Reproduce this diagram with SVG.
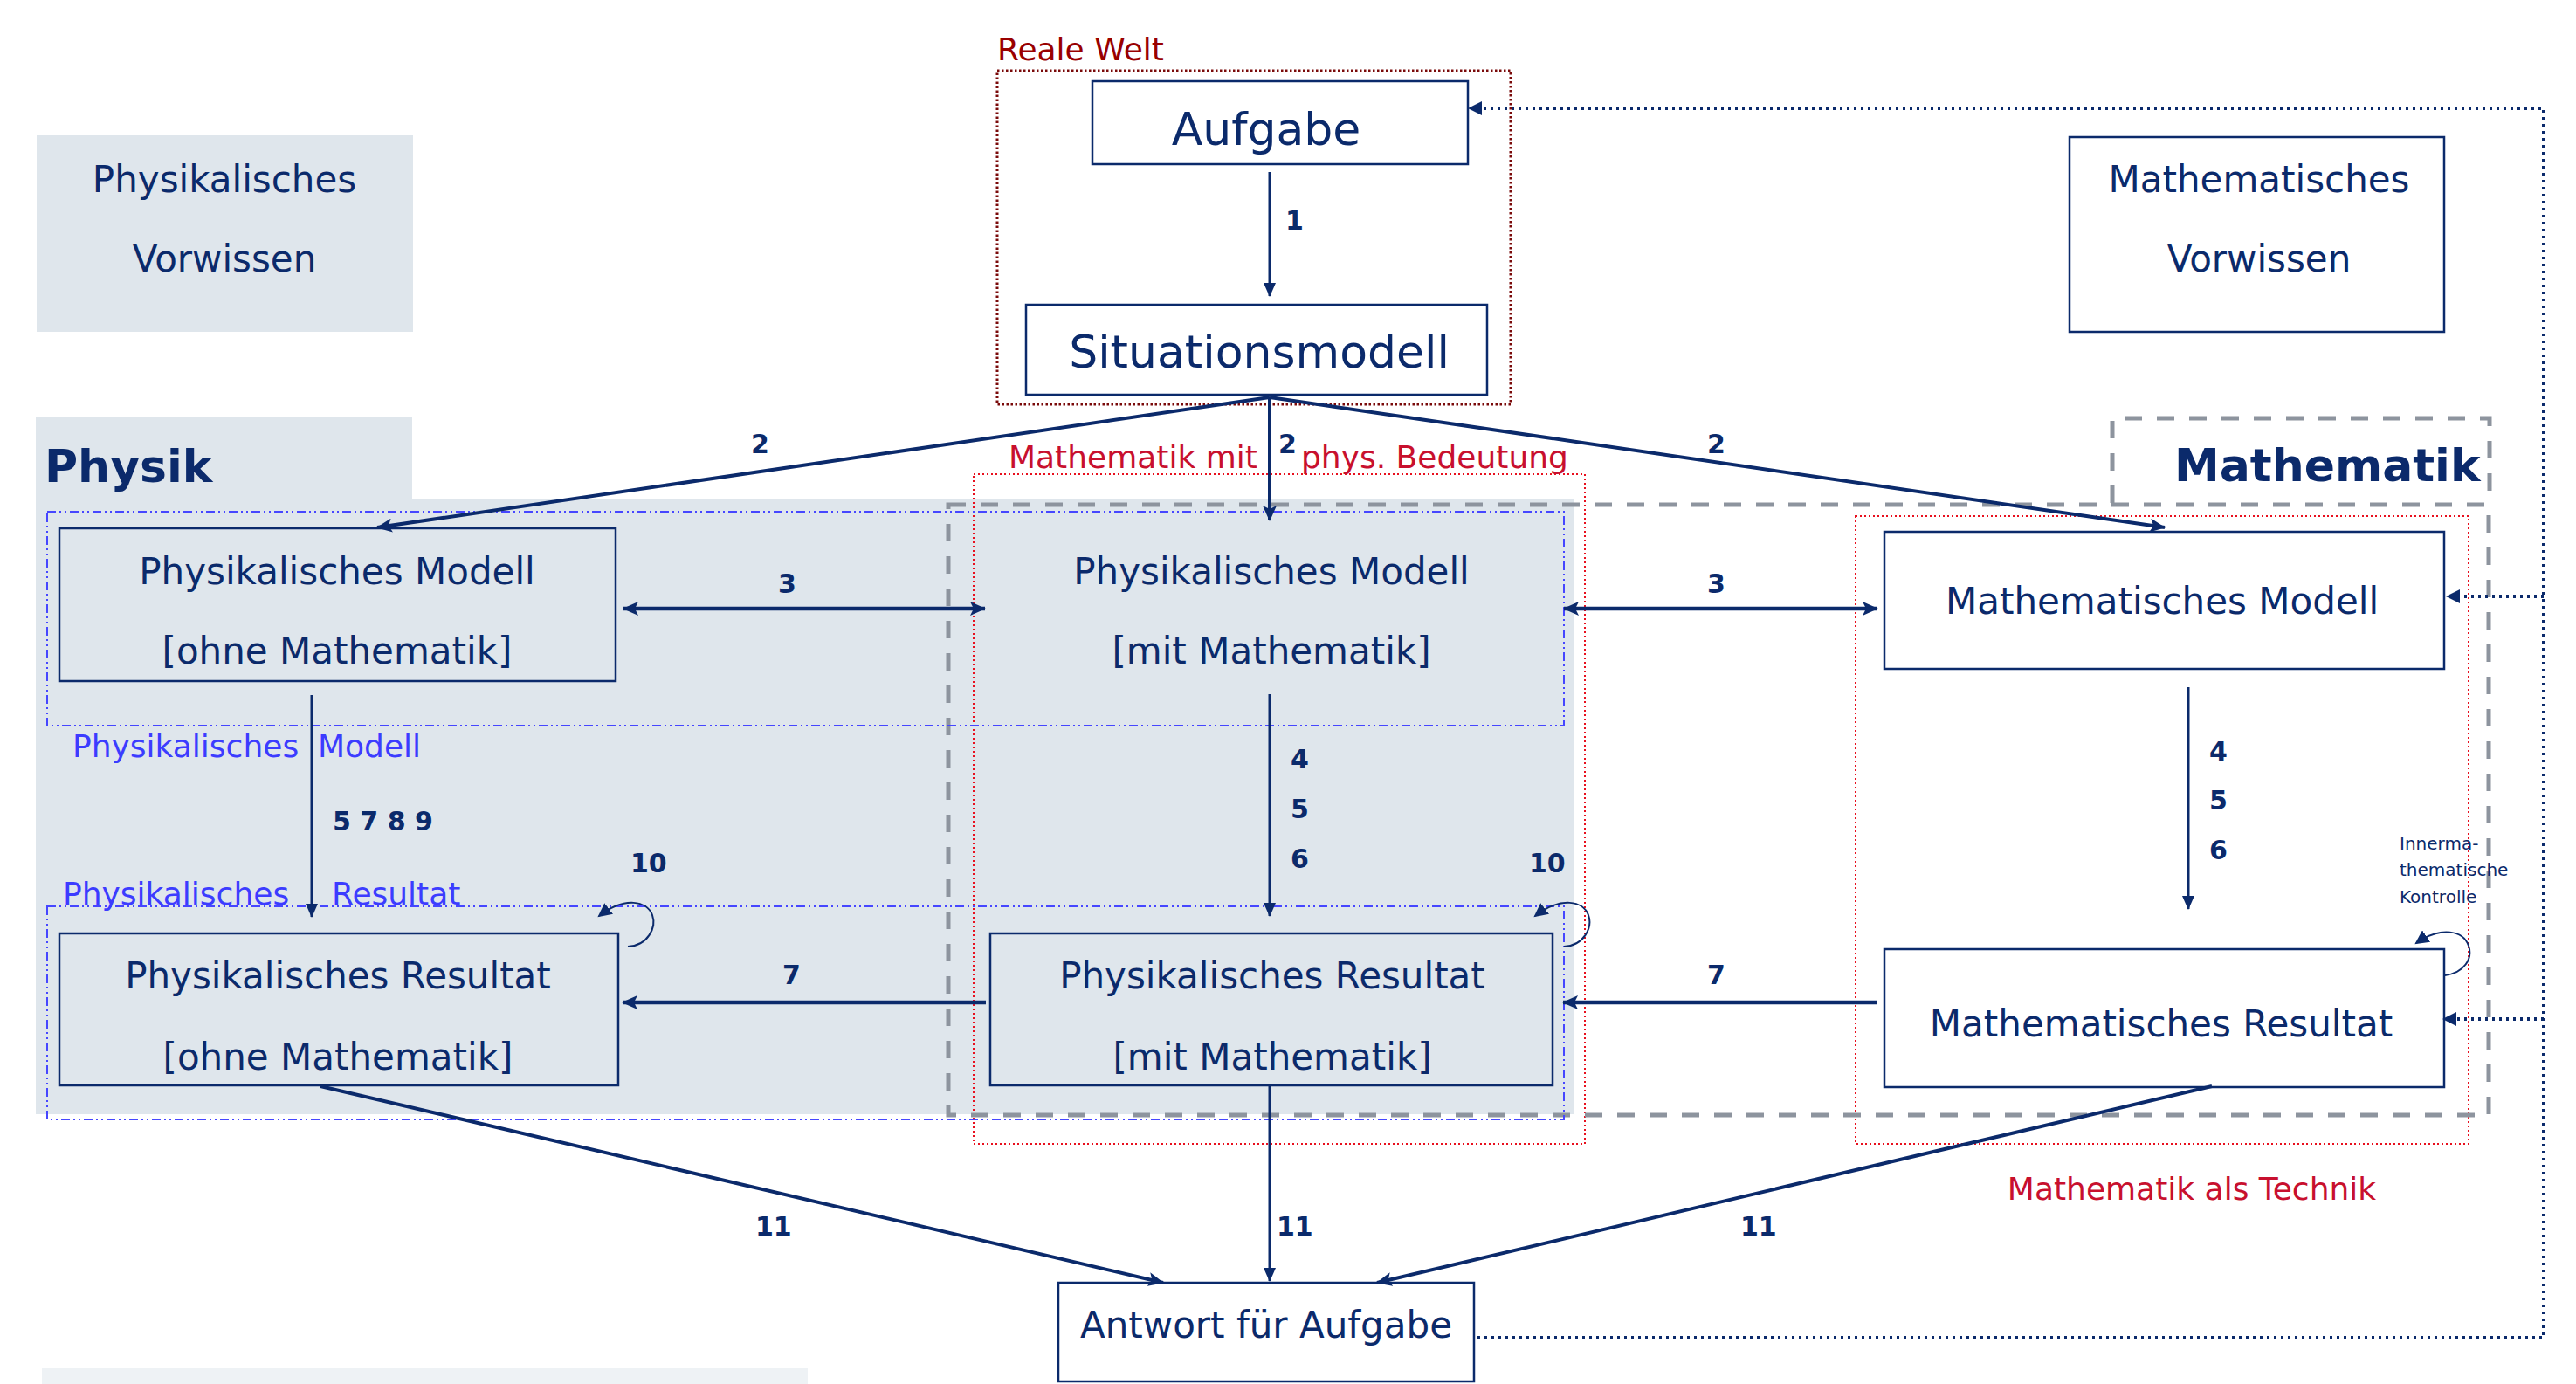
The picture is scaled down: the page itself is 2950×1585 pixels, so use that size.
<svg xmlns="http://www.w3.org/2000/svg" width="2950" height="1585" viewBox="0 0 2950 1585">
<style>
text{font-family:"DejaVu Sans","Liberation Sans",sans-serif;fill:#0b2a6b}
.t42{font-size:42px}
.t52{font-size:52px}
.mid{text-anchor:middle}
.bold{font-weight:bold}
.lbl{font-size:30px;font-weight:bold}
.blue{fill:#3c3cff;font-size:36px}
.red{fill:#c8102e;font-size:36px}
.box{fill:#ffffff;stroke:#0b2a6b;stroke-width:2.5}
.gbox{fill:none;stroke:#0b2a6b;stroke-width:2.5}
.gray{fill:none;stroke:#8d949e;stroke-width:5;stroke-dasharray:20 17}
.reddot{fill:none;stroke:#e8101e;stroke-width:2;stroke-dasharray:2 3}
.dreddot{fill:none;stroke:#7a0a0a;stroke-width:3;stroke-dasharray:2.5 2.5}
.bluedd{fill:none;stroke:#4646ff;stroke-width:2;stroke-dasharray:10 4 2 4 2 4}
.a4{fill:none;stroke:#0b2a6b;stroke-width:4;marker-end:url(#ah)}
.a3{fill:none;stroke:#0b2a6b;stroke-width:3;marker-end:url(#ahs)}
.a5{fill:none;stroke:#0b2a6b;stroke-width:4.5;marker-end:url(#ah)}
.dbl{marker-start:url(#ah)}
.dot{fill:none;stroke:#0b2a6b;stroke-width:4;stroke-dasharray:3 5}
.loop{fill:none;stroke:#0b2a6b;stroke-width:2;marker-end:url(#ahl)}
</style>
<defs>
<marker id="ah" markerUnits="userSpaceOnUse" markerWidth="20" markerHeight="16" refX="17" refY="8" orient="auto-start-reverse" viewBox="0 0 20 16"><path d="M0,0 L18,8 L0,16 L4,8 Z" fill="#0b2a6b"/></marker>
<marker id="ahs" markerUnits="userSpaceOnUse" markerWidth="16" markerHeight="14" refX="15" refY="7" orient="auto" viewBox="0 0 16 14"><path d="M0,0 L16,7 L0,14 Z" fill="#0b2a6b"/></marker>
<marker id="ahl" markerUnits="userSpaceOnUse" markerWidth="18" markerHeight="16" refX="14" refY="8" orient="auto" viewBox="0 0 18 16"><path d="M0,0 L16,8 L0,16 Z" fill="#0b2a6b"/></marker>
</defs>
<rect width="2950" height="1585" fill="#ffffff"/>

<g id="regions">
<rect x="41" y="478" width="431" height="95" fill="#dfe6ec"/>
<rect x="41" y="571" width="1761" height="705" fill="#dfe6ec"/>
<rect x="48" y="1567" width="877" height="18" fill="#eef2f5"/>
<rect class="dreddot" x="1142" y="81" width="588" height="382"/>
<text x="1142" y="69" style="fill:#990000;font-size:36px">Reale Welt</text>
<rect class="reddot" x="1115" y="543" width="700" height="767"/>
<text class="red" y="536"><tspan x="1155">Mathematik mit</tspan><tspan x="1490">phys. Bedeutung</tspan></text>
<rect class="reddot" x="2125" y="591" width="702" height="719"/>
<text class="red mid" x="2510" y="1374">Mathematik als Technik</text>
<path class="gray" d="M1086,578 H2850 V1277 H1086 Z"/>
<path class="gray" d="M2419,576 V479 H2851 V576"/>
<text class="bold t52" x="2490" y="551">Mathematik</text>
<text class="bold t52" x="51" y="552">Physik</text>
<rect class="bluedd" x="54" y="586" width="1737" height="245"/>
<text class="blue" y="867"><tspan x="83">Physikalisches</tspan><tspan x="364">Modell</tspan></text>
<rect class="bluedd" x="54" y="1038" width="1737" height="244"/>
<text class="blue" y="1036"><tspan x="72">Physikalisches</tspan><tspan x="380">Resultat</tspan></text>
</g>

<g id="phys-vorwissen">
<rect x="42" y="155" width="431" height="225" fill="#dfe6ec"/>
<text class="t42 mid" x="257" y="220">Physikalisches</text>
<text class="t42 mid" x="257" y="311">Vorwissen</text>
</g>
<g id="math-vorwissen">
<rect class="box" x="2370" y="157" width="429" height="223"/>
<text class="t42 mid" x="2587" y="220">Mathematisches</text>
<text class="t42 mid" x="2587" y="311">Vorwissen</text>
</g>
<g id="aufgabe">
<rect class="box" x="1251" y="93" width="430" height="95"/>
<text class="t52 mid" x="1450" y="166">Aufgabe</text>
</g>
<g id="situationsmodell">
<rect class="box" x="1175" y="349" width="528" height="103"/>
<text class="t52 mid" x="1442" y="421">Situationsmodell</text>
</g>
<g id="phys-modell-ohne">
<rect class="gbox" x="68" y="605" width="637" height="175"/>
<text class="t42 mid" x="386" y="669">Physikalisches Modell</text>
<text class="t42 mid" x="386" y="760">[ohne Mathematik]</text>
</g>
<g id="phys-modell-mit">
<text class="t42 mid" x="1456" y="669">Physikalisches Modell</text>
<text class="t42 mid" x="1456" y="760">[mit Mathematik]</text>
</g>
<g id="math-modell">
<rect class="box" x="2158" y="609" width="641" height="157"/>
<text class="t42 mid" x="2476" y="703">Mathematisches Modell</text>
</g>
<g id="phys-resultat-ohne">
<rect class="gbox" x="68" y="1069" width="640" height="174"/>
<text class="t42 mid" x="387" y="1132">Physikalisches Resultat</text>
<text class="t42 mid" x="387" y="1225">[ohne Mathematik]</text>
</g>
<g id="phys-resultat-mit">
<rect class="gbox" x="1134" y="1069" width="644" height="174"/>
<text class="t42 mid" x="1457" y="1132">Physikalisches Resultat</text>
<text class="t42 mid" x="1457" y="1225">[mit Mathematik]</text>
</g>
<g id="math-resultat">
<rect class="box" x="2158" y="1087" width="641" height="158"/>
<text class="t42 mid" x="2475" y="1187">Mathematisches Resultat</text>
</g>
<g id="antwort">
<rect class="box" x="1212" y="1469" width="476" height="113"/>
<text class="t42 mid" x="1450" y="1532">Antwort für Aufgabe</text>
</g>
<g id="kontrolle-note">
<text x="2748" y="973" style="font-size:20px">Innerma-</text>
<text x="2748" y="1003" style="font-size:20px">thematische</text>
<text x="2748" y="1034" style="font-size:20px">Kontrolle</text>
</g>

<g id="connectors">
<path class="a3" d="M1454,197 V339"/>
<path class="a4" d="M1454,455 L432,604"/>
<path class="a4" d="M1454,455 V596"/>
<path class="a4" d="M1454,455 L2479,604"/>
<path class="a5 dbl" d="M714,697 H1128"/>
<path class="a5 dbl" d="M1791,697 H2150"/>
<path class="a3" d="M357,796 V1050"/>
<path class="a3" d="M1454,795 V1049"/>
<path class="a3" d="M2506,787 V1041"/>
<path class="a5" d="M1129,1148 H713"/>
<path class="a5" d="M2150,1148 H1790"/>
<path class="a4" d="M367,1244 L1332,1469"/>
<path class="a3" d="M1454,1244 V1467"/>
<path class="a4" d="M2533,1244 L1577,1469"/>
<path class="loop" d="M719,1084 C742,1083 752,1062 747,1048 C741,1032 716,1026 686,1049"/>
<path class="loop" d="M1791,1084 C1814,1083 1824,1062 1819,1048 C1813,1032 1788,1026 1758,1049"/>
<path class="loop" d="M2800,1117 C2822,1114 2832,1098 2827,1083 C2821,1066 2796,1060 2767,1080"/>
<path class="dot" d="M1692,1532 H2913 V124 H1697"/>
<path d="M1681,124 L1697,116 L1697,132 Z" fill="#0b2a6b"/>
<path class="dot" d="M2913,683 H2815"/>
<path d="M2801,683 L2817,675 L2817,691 Z" fill="#0b2a6b"/>
<path class="dot" d="M2913,1167 H2811"/>
<path d="M2797,1167 L2813,1159 L2813,1175 Z" fill="#0b2a6b"/>
</g>

<g id="labels">
<text class="lbl" x="1472" y="263">1</text>
<text class="lbl" x="860" y="519">2</text>
<text class="lbl" x="1464" y="519">2</text>
<text class="lbl" x="1955" y="519">2</text>
<text class="lbl" x="891" y="679">3</text>
<text class="lbl" x="1955" y="679">3</text>
<text class="lbl" x="1478" y="880">4</text>
<text class="lbl" x="1478" y="937">5</text>
<text class="lbl" x="1478" y="994">6</text>
<text class="lbl" x="2530" y="871">4</text>
<text class="lbl" x="2530" y="927">5</text>
<text class="lbl" x="2530" y="984">6</text>
<text class="lbl" x="381" y="951">5 7 8 9</text>
<text class="lbl" x="722" y="999">10</text>
<text class="lbl" x="1751" y="999">10</text>
<text class="lbl" x="896" y="1127">7</text>
<text class="lbl" x="1955" y="1127">7</text>
<text class="lbl" x="865" y="1415">11</text>
<text class="lbl" x="1462" y="1415">11</text>
<text class="lbl" x="1993" y="1415">11</text>
</g>
</svg>
